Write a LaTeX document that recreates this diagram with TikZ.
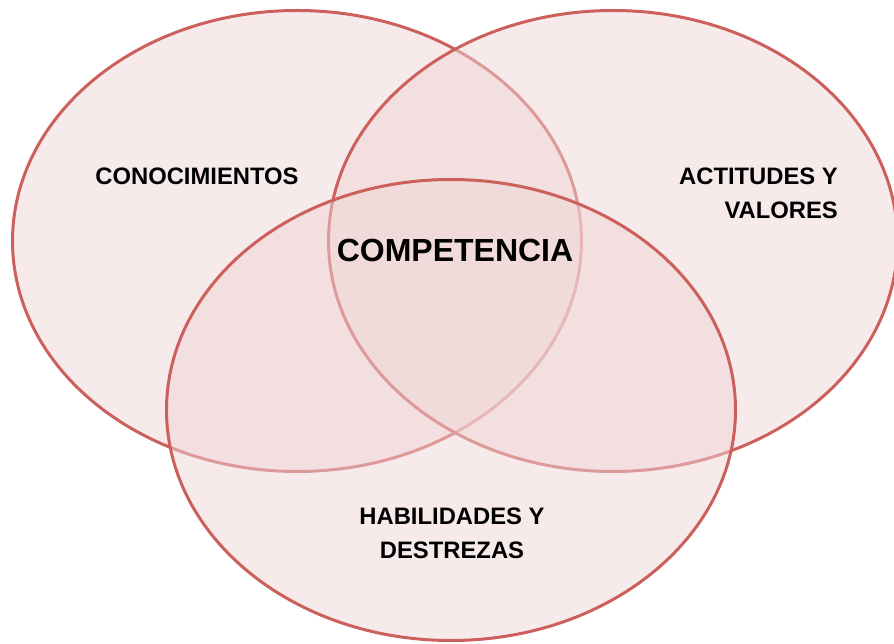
\documentclass[tikz,border=0pt]{standalone}
\usepackage{fontspec}
\setmainfont{Liberation Sans}
\usepackage{xcolor}
\usepackage{tikz}
\usetikzlibrary{shapes.geometric}
\definecolor{rimred}{RGB}{204,96,92}
\definecolor{petal}{RGB}{239,213,213}
\tikzstyle{circleset} = [ellipse, minimum width=569pt, minimum height=461pt, inner sep=0pt, draw=rimred, line width=3pt, fill=petal, fill opacity=0.5, draw opacity=1]
\tikzstyle{setlabel} = [font=\bfseries\fontsize{23.8}{34}\selectfont, inner sep=0pt]
\tikzstyle{corelabel} = [font=\bfseries\fontsize{32}{38}\selectfont, inner sep=0pt]

\begin{document}
\begin{tikzpicture}[x=1pt, y=-1pt]
\useasboundingbox (0,0) rectangle (894,644);

% The three sets
\node (know) [circleset] at (297,241) {};
\node (values) [circleset] at (613,241) {};
\node (skills) [circleset] at (451,410) {};

% Set labels
\node (knowtxt) [setlabel] at (197,176) {CONOCIMIENTOS};
\node (valuestxt) [setlabel, align=right, anchor=east] at (838,193) {ACTITUDES Y\\VALORES};
\node (skillstxt) [setlabel, align=center] at (452,533) {HABILIDADES Y\\DESTREZAS};

% Centre
\node (core) [corelabel] at (455,250) {COMPETENCIA};

\end{tikzpicture}
\end{document}
